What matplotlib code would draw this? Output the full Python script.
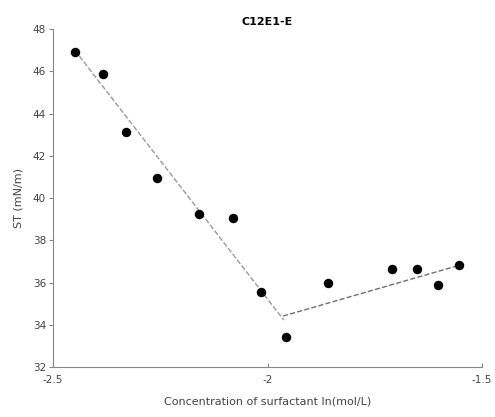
import numpy as np
import matplotlib.pyplot as plt

# measured points: ln(concentration) vs surface tension
ln_conc = [-2.449, -2.383, -2.330, -2.257, -2.159, -2.081, -2.015,
           -1.958, -1.858, -1.710, -1.652, -1.602, -1.553]
st = [46.93, 45.9, 43.14, 40.93, 39.24, 39.04, 35.56,
      33.43, 35.99, 36.62, 36.62, 35.88, 36.83]

# the two fitted lines as drawn
fit1_x = [-2.449, -1.962]
fit1_y = [47.0, 34.22]
fit2_x = [-1.964, -1.551]
fit2_y = [34.41, 36.83]

xticks = [-2.5, -2, -1.5]
yticks = [32, 34, 36, 38, 40, 42, 44, 46, 48]

fig = plt.figure(figsize=(4.95, 4.17), dpi=100)
ax = fig.add_axes([0.107, 0.12, 0.867, 0.81])

ax.plot(fit1_x, fit1_y, '--', color='#9a9a9a', lw=1.0)
ax.plot(fit2_x, fit2_y, '--', color='#707070', lw=1.0)
ax.plot(ln_conc, st, 'o', color='black', ms=5.8)

ax.set_xlim(-2.5, -1.5)
ax.set_ylim(32, 48)
ax.set_xticks(xticks)
ax.set_xticklabels(['-2.5', '-2', '-1.5'])
ax.set_yticks(yticks)

for s in ['top', 'right']:
    ax.spines[s].set_visible(False)
for s in ['left', 'bottom']:
    ax.spines[s].set_color('#888888')

ax.tick_params(axis='x', direction='in', length=3, colors='#888888',
               labelcolor='#444444', labelsize=7.5, pad=6)
ax.tick_params(axis='y', direction='out', length=3, colors='#888888',
               labelcolor='#444444', labelsize=7.5, pad=2)

ax.set_title('C12E1-E', fontsize=8, color='black', fontweight='bold', pad=3)
ax.set_xlabel('Concentration of surfactant ln(mol/L)', fontsize=8,
              color='#444444', labelpad=8)
ax.set_ylabel('ST (mN/m)', fontsize=8, color='#444444', labelpad=7)

plt.savefig('out.png', dpi=100)
